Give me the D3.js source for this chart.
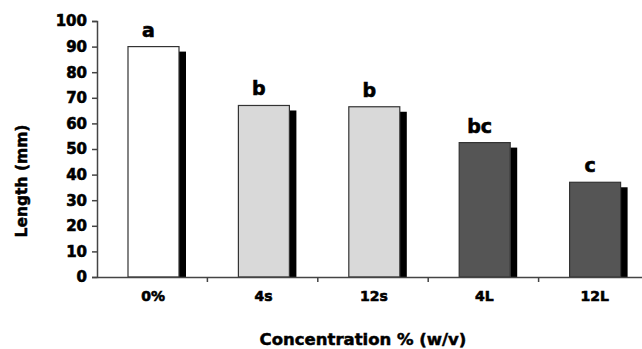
<!DOCTYPE html>
<html>
<head>
<meta charset="utf-8">
<script src="https://cdn.jsdelivr.net/npm/d3@7"></script>
<style>
  body { margin: 0; background: #fff; }
  text { font-family: "DejaVu Sans", sans-serif; font-weight: bold; }
</style>
</head>
<body>
<svg id="chart" width="642" height="349"></svg>
<script>
// donnees
var categories = ["0%", "4s", "12s", "4L", "12L"];
var lengths = [90, 67, 66.5, 52.5, 37];
var letters = ["a", "b", "b", "bc", "c"];
var fills = ["#ffffff", "#d9d9d9", "#d9d9d9", "#555555", "#555555"];
var yTicks = [0, 10, 20, 30, 40, 50, 60, 70, 80, 90, 100];

var svg = d3.select("#chart");

var x = d3.scaleBand()
  .domain(categories)
  .range([97, 649])
  .paddingInner(0)
  .paddingOuter(0);

var y = d3.scaleLinear()
  .domain([0, 100])
  .range([277, 21]);

var barW = 51;
var barOff = 31;

// ombre des barres
svg.selectAll("rect.shadow")
  .data(categories)
  .enter()
  .append("rect")
  .attr("class", "shadow")
  .attr("x", function(d){ return x(d) + barOff + barW; })
  .attr("y", function(d, i){ return y(lengths[i]) + 5; })
  .attr("width", 7)
  .attr("height", function(d, i){ return y(0) - y(lengths[i]) - 5; })
  .attr("fill", "#000");

// barres
svg.selectAll("rect.bar")
  .data(categories)
  .enter()
  .append("rect")
  .attr("class", "bar")
  .attr("x", function(d){ return x(d) + barOff; })
  .attr("y", function(d, i){ return y(lengths[i]); })
  .attr("width", barW)
  .attr("height", function(d, i){ return y(0) - y(lengths[i]); })
  .attr("fill", function(d, i){ return fills[i]; })
  .attr("stroke", "#333")
  .attr("stroke-width", 1.2);

// lettres
svg.selectAll("text.letter")
  .data(categories)
  .enter()
  .append("text")
  .attr("class", "letter")
  .attr("x", function(d){ return x(d) + barOff + barW / 2 - 5; })
  .attr("y", function(d, i){ return y(lengths[i]) - 10; })
  .attr("text-anchor", "middle")
  .attr("stroke", "#000")
  .attr("stroke-width", 0.6)
  .style("font-size", "19px")
  .text(function(d, i){ return letters[i]; });

// axe y
var yAxis = d3.axisLeft(y)
  .tickValues(yTicks)
  .tickSize(5)
  .tickPadding(5);

var gy = svg.append("g")
  .attr("transform", "translate(97,0)")
  .call(yAxis);
gy.select(".domain").attr("stroke", "#444").attr("stroke-width", 1.5);
gy.selectAll(".tick line").attr("stroke", "#444").attr("stroke-width", 1.5);
gy.selectAll(".tick text")
  .style("font-size", "15px")
  .attr("fill", "#000")
  .attr("stroke", "#000")
  .attr("stroke-width", 0.6);

// axe x
var xAxis = d3.axisBottom(x)
  .tickSize(0)
  .tickPadding(14);

var gx = svg.append("g")
  .attr("transform", "translate(0,277)")
  .call(xAxis);
gx.select(".domain").attr("stroke", "#444").attr("stroke-width", 1.5);
gx.selectAll(".tick text")
  .attr("dx", 1)
  .style("font-size", "14px")
  .attr("fill", "#000")
  .attr("stroke", "#000")
  .attr("stroke-width", 0.6);

// traits entre categories
svg.selectAll("line.sep")
  .data(categories.slice(1))
  .enter()
  .append("line")
  .attr("class", "sep")
  .attr("x1", function(d){ return x(d); })
  .attr("x2", function(d){ return x(d); })
  .attr("y1", 277)
  .attr("y2", 282)
  .attr("stroke", "#444")
  .attr("stroke-width", 1.5);

// titres des axes
svg.append("text")
  .attr("transform", "translate(27,181) rotate(-90)")
  .attr("text-anchor", "middle")
  .attr("stroke", "#000")
  .attr("stroke-width", 0.5)
  .style("font-size", "15.5px")
  .text("Length (mm)");

svg.append("text")
  .attr("x", 363)
  .attr("y", 345)
  .attr("text-anchor", "middle")
  .attr("stroke", "#000")
  .attr("stroke-width", 0.5)
  .style("font-size", "16.5px")
  .text("Concentration % (w/v)");
</script>
</body>
</html>
